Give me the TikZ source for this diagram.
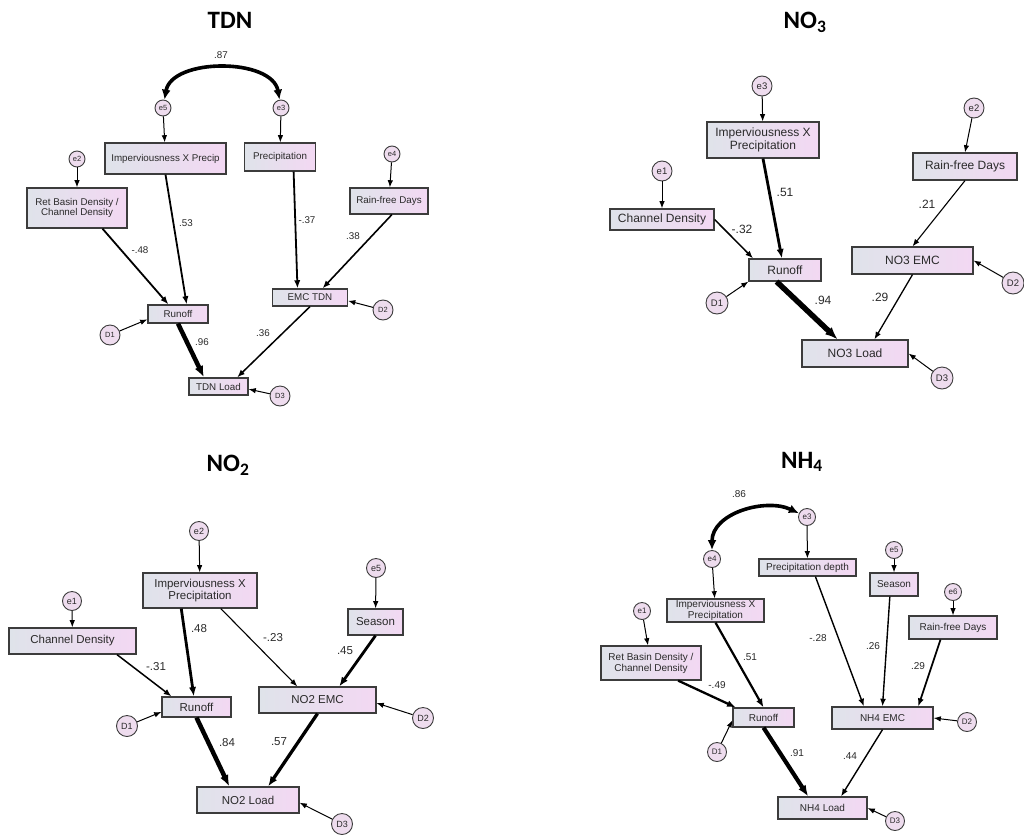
\documentclass[tikz,border=0pt]{standalone}
\usepackage{fontspec}
\setmainfont{Liberation Sans}
\newfontfamily\ttlfont{Carlito}
\usetikzlibrary{arrows.meta}
\definecolor{boxl}{HTML}{DFE3EA}
\definecolor{boxr}{HTML}{F3D8F3}
\definecolor{errc}{HTML}{EEDCEE}
\definecolor{linec}{HTML}{3C3C3C}
\definecolor{txtc}{HTML}{2A2A2A}

\begin{document}
\begin{tikzpicture}[x=1pt,y=-1pt,
    box/.style={draw=linec,line width=1.2pt,left color=boxl,right color=boxr,
      align=center,inner sep=1pt,text=txtc},
    sz/.style 2 args={minimum width=#1pt,minimum height=#2pt},
    err/.style 2 args={circle,draw=linec,line width=.9pt,fill=errc,inner sep=0pt,
      minimum size=#1pt,text=txtc,font=\fontsize{#2}{#2}\selectfont},
    coef/.style={text=txtc,inner sep=0pt},
    ttl/.style={font=\ttlfont\bfseries\fontsize{25}{25}\selectfont},
    pa/.style={draw=black,-{Latex[length=6pt 1.2,width=4.5pt 1]},line width=#1pt},
    pa/.default=1,
    cov/.style={<->,>={Latex[length=10pt,width=9pt]},line width=3.6pt},
    tdn/.style={font=\fontsize{9.8}{10.8}\selectfont},
    no3/.style={font=\fontsize{12}{13.3}\selectfont},
    no2/.style={font=\fontsize{11.5}{12.5}\selectfont},
    nh4/.style={font=\fontsize{10}{11}\selectfont}]

  \path[use as bounding box,fill=white] (0,0) rectangle (1024,835);

  % TDN
  \node[ttl] (t-ttl) at (230,20) {TDN};
  \node[err={16}{7.5}] (t-e5) at (163,108) {e5};
  \node[err={16}{7.5}] (t-e3) at (281,108) {e3};
  \node[err={16}{7.5}] (t-e2) at (77,159) {e2};
  \node[err={16}{7.5}] (t-e4) at (392,154) {e4};
  \node[box,tdn,sz={121}{31}] (t-imp) at (165.5,158.5) {Imperviousness X Precip};
  \node[box,tdn,sz={71}{28}] (t-pre) at (280,157) {Precipitation};
  \node[box,tdn,sz={100}{40}] (t-ret) at (77,208) {Ret Basin Density /\\Channel Density};
  \node[box,tdn,sz={78}{26}] (t-rfd) at (389,201) {Rain-free Days};
  \node[box,tdn,sz={60}{18}] (t-run) at (178,314) {Runoff};
  \node[box,tdn,sz={75}{17}] (t-emc) at (310,297.5) {EMC TDN};
  \node[box,tdn,sz={59}{17}] (t-load) at (218.5,386.5) {TDN Load};
  \node[err={20}{7.5}] (t-d1) at (110,335) {D1};
  \node[err={20}{7.5}] (t-d2) at (383,310) {D2};
  \node[err={20}{7.5}] (t-d3) at (280,396) {D3};

  \draw[cov] (t-e5) to[out=80,in=100,looseness=.95] (t-e3);
  \foreach \a/\b in {e5/imp,e3/pre,e2/ret,e4/rfd,d1/run.190,d2/emc.-5,d3/load.-5}
    \draw[pa] (t-\a) -- (t-\b);
  \draw[pa=1.8] (t-ret.-39) -- (t-run.135);
  \draw[pa=1.8] (t-imp.south) -- (t-run.48);
  \draw[pa=1.8] (t-pre.-47) -- (t-emc.144);
  \draw[pa=1.6] (t-rfd.-78) -- (t-emc.36);
  \draw[pa=4.5] (t-run.south) -- (t-load.148);
  \draw[pa=1.5] (t-emc.south) -- (t-load.26);

  \node[coef,tdn] (t-c87) at (221,55) {.87};
  \node[coef,tdn] (t-c53) at (186,223) {.53};
  \node[coef,tdn] (t-c48) at (140,250) {-.48};
  \node[coef,tdn] (t-c37) at (307,220) {-.37};
  \node[coef,tdn] (t-c38) at (353,236) {.38};
  \node[coef,tdn] (t-c96) at (202,342) {.96};
  \node[coef,tdn] (t-c36) at (263,333) {.36};

  % NO3
  \node[ttl] (n3-ttl) at (805,22) {NO\textsubscript{3}};
  \node[err={20}{9.5}] (n3-e3) at (762,86) {e3};
  \node[err={20}{9.5}] (n3-e1) at (662,171) {e1};
  \node[err={20}{9.5}] (n3-e2) at (974,108) {e2};
  \node[box,no3,sz={112}{36}] (n3-imp) at (763,140) {Imperviousness X\\Precipitation};
  \node[box,no3,sz={104}{21}] (n3-chd) at (662,219.5) {Channel Density};
  \node[box,no3,sz={72}{22}] (n3-run) at (785,270) {Runoff};
  \node[box,no3,sz={104}{27}] (n3-rfd) at (965,166.5) {Rain-free Days};
  \node[box,no3,sz={121}{27}] (n3-emc) at (912.5,260.5) {NO3 EMC};
  \node[box,no3,sz={106}{27}] (n3-load) at (855,353.5) {NO3 Load};
  \node[err={22}{9.5}] (n3-d1) at (717,303) {D1};
  \node[err={22}{9.5}] (n3-d2) at (1013,283) {D2};
  \node[err={22}{9.5}] (n3-d3) at (942,378) {D3};

  \foreach \a/\b in {e3/imp,e1/chd,e2/rfd.north,d1/run.south west,d2/emc.east,d3/load.east}
    \draw[pa] (n3-\a) -- (n3-\b);
  \draw[pa=2.8] (n3-imp.south) -- (n3-run.105);
  \draw[pa=1.5] (n3-chd.east) -- (n3-run.160);
  \draw[pa=1.1] (n3-rfd.south) -- (n3-emc.north);
  \draw[pa=5.5] (n3-run.-126) -- (n3-load.141);
  \draw[pa=1.3] (n3-emc.south) -- (n3-load.36);

  \node[coef,no3] (n3-c51) at (785,192) {.51};
  \node[coef,no3] (n3-c32) at (742,229) {-.32};
  \node[coef,no3] (n3-c21) at (927,204) {.21};
  \node[coef,no3] (n3-c94) at (823,300) {.94};
  \node[coef,no3] (n3-c29) at (880,297) {.29};

  % NO2
  \node[ttl] (n2-ttl) at (228,465) {NO\textsubscript{2}};
  \node[err={19}{9}] (n2-e2) at (199,531) {e2};
  \node[err={19}{9}] (n2-e1) at (72,601) {e1};
  \node[err={19}{9}] (n2-e5) at (376,568) {e5};
  \node[box,no2,sz={114}{35}] (n2-imp) at (200,590.5) {Imperviousness X\\Precipitation};
  \node[box,no2,sz={127}{26}] (n2-chd) at (72.5,641) {Channel Density};
  \node[box,no2,sz={55}{26}] (n2-sea) at (375.5,622) {Season};
  \node[box,no2,sz={69}{20}] (n2-run) at (196.5,707) {Runoff};
  \node[box,no2,sz={117}{26}] (n2-emc) at (317.5,700) {NO2 EMC};
  \node[box,no2,sz={102}{26}] (n2-load) at (248,800) {NO2 Load};
  \node[err={21}{9}] (n2-d1) at (127,726) {D1};
  \node[err={21}{9}] (n2-d2) at (423,718) {D2};
  \node[err={21}{9}] (n2-d3) at (342,824) {D3};

  \foreach \a/\b in {e2/imp,e1/chd,e5/sea,d1/run.188,d2/emc.-3,d3/load.-3}
    \draw[pa] (n2-\a) -- (n2-\b);
  \draw[pa=2.8] (n2-imp.-136) -- (n2-run.104);
  \draw[pa=1.1] (n2-imp.-41) -- (n2-emc.146);
  \draw[pa=1.5] (n2-chd.-17) -- (n2-run.157);
  \draw[pa=2.8] (n2-sea.south) -- (n2-emc.32);
  \draw[pa=4.5] (n2-run.south) -- (n2-load.144);
  \draw[pa=3.3] (n2-emc.south) -- (n2-load.34);

  \node[coef,no2] (n2-c48) at (199,629) {.48};
  \node[coef,no2] (n2-c23) at (273,638) {-.23};
  \node[coef,no2] (n2-c31) at (156,667) {-.31};
  \node[coef,no2] (n2-c45) at (345,651) {.45};
  \node[coef,no2] (n2-c84) at (227,743) {.84};
  \node[coef,no2] (n2-c57) at (279,742) {.57};

  % NH4
  \node[ttl] (n4-ttl) at (802,462) {NH\textsubscript{4}};
  \node[err={17}{8}] (n4-e3) at (807,517) {e3};
  \node[err={17}{8}] (n4-e4) at (712,559) {e4};
  \node[err={17}{8}] (n4-e5) at (894,550) {e5};
  \node[err={17}{8}] (n4-e6) at (953,592) {e6};
  \node[err={17}{8}] (n4-e1) at (642,611) {e1};
  \node[box,nh4,sz={97}{17}] (n4-pre) at (807.5,567.5) {Precipitation depth};
  \node[box,nh4,sz={48}{23}] (n4-sea) at (894,584.5) {Season};
  \node[box,nh4,sz={88}{23}] (n4-rfd) at (953,627.5) {Rain-free Days};
  \node[box,nh4,sz={97}{23}] (n4-imp) at (715.5,610.5) {Imperviousness X\\Precipitation};
  \node[box,nh4,sz={100}{34}] (n4-ret) at (651,663) {Ret Basin Density /\\Channel Density};
  \node[box,nh4,sz={61}{19}] (n4-run) at (763.5,717.5) {Runoff};
  \node[box,nh4,sz={101}{22}] (n4-emc) at (882.5,718) {NH4 EMC};
  \node[box,nh4,sz={89}{22}] (n4-load) at (822.5,808) {NH4 Load};
  \node[err={19}{8}] (n4-d1) at (717,752) {D1};
  \node[err={19}{8}] (n4-d2) at (967,722) {D2};
  \node[err={19}{8}] (n4-d3) at (895,821) {D3};

  \draw[cov] (n4-e4) to[out=90,in=155] (n4-e3);
  \foreach \a/\b in {e3/pre,e4/imp,e5/sea,e6/rfd,e1/ret,d1/run.185,d2/emc.east,d3/load.east}
    \draw[pa] (n4-\a) -- (n4-\b);
  \draw[pa=2.3] (n4-ret.-33) -- (n4-run.160);
  \draw[pa=2.2] (n4-imp.south) -- (n4-run.north);
  \draw[pa=1.4] (n4-pre.-49) -- (n4-emc.148);
  \draw[pa=1.4] (n4-sea.-109) -- (n4-emc.north);
  \draw[pa=1.7] (n4-rfd.-136) -- (n4-emc.18);
  \draw[pa=4.2] (n4-run.south) -- (n4-load.141);
  \draw[pa=1.4] (n4-emc.south) -- (n4-load.32);

  \node[coef,nh4] (n4-c86) at (739,494) {.86};
  \node[coef,nh4] (n4-c51) at (750,657) {.51};
  \node[coef,nh4] (n4-c49) at (717,685) {-.49};
  \node[coef,nh4] (n4-c28) at (818,638) {-.28};
  \node[coef,nh4] (n4-c26) at (873,646) {.26};
  \node[coef,nh4] (n4-c29) at (918,666) {.29};
  \node[coef,nh4] (n4-c91) at (797,753) {.91};
  \node[coef,nh4] (n4-c44) at (850,756) {.44};

\end{tikzpicture}
\end{document}
